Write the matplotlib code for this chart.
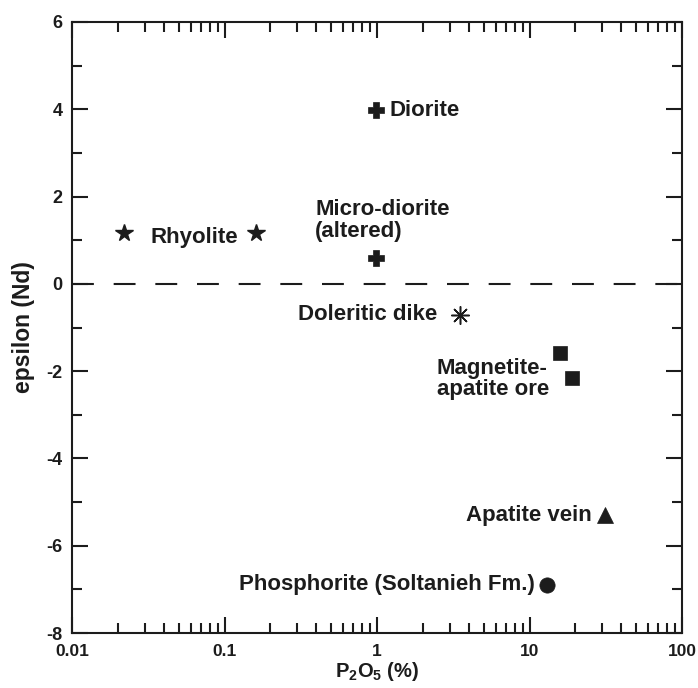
import matplotlib
matplotlib.use("Agg")
import matplotlib.pyplot as plt
from matplotlib.ticker import LogLocator, MultipleLocator, FixedLocator, FixedFormatter

plt.rcParams['font.family'] = ['Liberation Sans', 'DejaVu Sans']
plt.rcParams['font.weight'] = 'bold'
plt.rcParams['axes.unicode_minus'] = False
plt.rcParams['mathtext.fontset'] = 'custom'
plt.rcParams['mathtext.rm'] = 'Liberation Sans:bold'
plt.rcParams['mathtext.bf'] = 'Liberation Sans:bold'
plt.rcParams['mathtext.it'] = 'Liberation Sans:bold'

# ---- data ----
groups = ["Rhyolite", "Diorite", "Micro-diorite\n(altered)", "Doleritic dike",
          "Magnetite-\napatite ore", "Apatite vein", "Phosphorite (Soltanieh Fm.)"]
rhyolite_p2o5 = [0.022, 0.161]
rhyolite_eps = [1.17, 1.17]
diorite_p2o5 = [0.98]
diorite_eps = [3.98]
microdiorite_p2o5 = [0.99]
microdiorite_eps = [0.60]
dolerite_p2o5 = [3.5]
dolerite_eps = [-0.71]
magnetite_p2o5 = [15.8, 19.0]
magnetite_eps = [-1.58, -2.16]
apatite_vein_p2o5 = [31.3]
apatite_vein_eps = [-5.30]
phosphorite_p2o5 = [13.0]
phosphorite_eps = [-6.90]

x_ticks = [0.01, 0.1, 1, 10, 100]
x_ticklabels = ["0.01", "0.1", "1", "10", "100"]
y_ticks = [-8, -6, -4, -2, 0, 2, 4, 6]

ink = '#1c1c1c'

fig = plt.figure(figsize=(6.98, 6.88), dpi=100)
ax = fig.add_axes([72/698, 1-633/688, (682-72)/698, (633-22)/688])

ax.set_xscale('log')
ax.set_xlim(0.01, 100)
ax.set_ylim(-8, 6)

# zero reference line
ax.axhline(0, color=ink, lw=1.5, dashes=(10.5, 9.5), zorder=1)

ax.plot(rhyolite_p2o5, rhyolite_eps, ls='none', marker='*', ms=13, color=ink, mec=ink)
ax.plot(diorite_p2o5, diorite_eps, ls='none', marker='P', ms=11, color=ink, mec=ink, mew=0.5)
ax.plot(microdiorite_p2o5, microdiorite_eps, ls='none', marker='P', ms=11, color=ink, mec=ink, mew=0.5)
ax.plot(dolerite_p2o5, dolerite_eps, ls='none', marker=(8, 2, 0), ms=13, color=ink, mec=ink, mew=1.1)
ax.plot(magnetite_p2o5, magnetite_eps, ls='none', marker='s', ms=9.5, color=ink, mec=ink, mew=0.5)
ax.plot(apatite_vein_p2o5, apatite_vein_eps, ls='none', marker='^', ms=12, color=ink, mec=ink, mew=0.5)
ax.plot(phosphorite_p2o5, phosphorite_eps, ls='none', marker='o', ms=11, color=ink, mec=ink, mew=0.5)

fs = 16
def lab(text, xy, off, ha, va='center', **kw):
    ax.annotate(text, xy=xy, xytext=off, textcoords='offset points',
                ha=ha, va=va, fontsize=fs, fontweight='bold', color=ink, **kw)

lab(groups[0], (rhyolite_p2o5[0], rhyolite_eps[0]), (18.7, -3.5), 'left')
lab(groups[1], (diorite_p2o5[0], diorite_eps[0]), (10, 0), 'left')
lab(groups[2], (microdiorite_p2o5[0], microdiorite_eps[0]), (-44, 27), 'left', linespacing=1.08)
lab(groups[3], (dolerite_p2o5[0], dolerite_eps[0]), (-16.5, 0), 'right')
lab(groups[4], (magnetite_p2o5[0], magnetite_eps[0]), (-88.6, -18.7), 'left', linespacing=1.02)
lab(groups[5], (apatite_vein_p2o5[0], apatite_vein_eps[0]), (-9.4, 0), 'right')
lab(groups[6], (phosphorite_p2o5[0], phosphorite_eps[0]), (-8.6, 0), 'right')

# ticks
ax.xaxis.set_major_locator(FixedLocator(x_ticks))
ax.xaxis.set_major_formatter(FixedFormatter(x_ticklabels))
ax.xaxis.set_minor_locator(LogLocator(base=10, subs=range(2, 10), numticks=20))
ax.yaxis.set_major_locator(FixedLocator(y_ticks))
ax.yaxis.set_minor_locator(MultipleLocator(1))

ax.tick_params(which='both', direction='in', top=True, right=True, width=1.5, color=ink)
ax.tick_params(which='major', length=11.5)
ax.tick_params(which='minor', length=7.5)
ax.tick_params(axis='x', which='major', pad=8, labelsize=12.5)
ax.tick_params(axis='y', which='major', pad=7, labelsize=13)
for t in ax.get_xticklabels() + ax.get_yticklabels():
    t.set_fontweight('bold')
    t.set_color(ink)

for s in ax.spines.values():
    s.set_linewidth(1.5)
    s.set_color(ink)

ax.set_xlabel(r'P$_\mathbf{2}$O$_\mathbf{5}$ (%)', fontsize=14.5, fontweight='bold', color=ink, labelpad=0.5)
ax.set_ylabel('epsilon (Nd)', fontsize=16.5, fontweight='bold', color=ink, labelpad=8)

fig.savefig('out.png', dpi=100)
